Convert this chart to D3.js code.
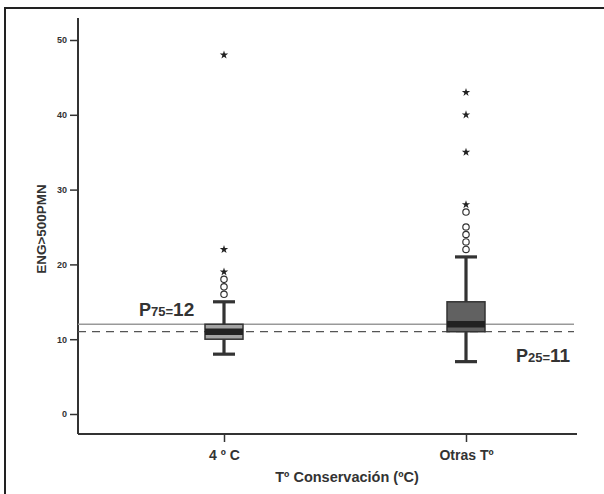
<!DOCTYPE html>
<html>
<head>
<meta charset="utf-8">
<script src="https://cdn.jsdelivr.net/npm/d3@7"></script>
<style>
    body { margin: 0; background: #fff; }
    svg { display: block; font-family: "Liberation Sans", Arial, sans-serif; }
</style>
</head>
<body>
<div id="chart"></div>
<script>
// data
var categories = ["4 º C", "Otras Tº"];
var q1 = [10, 11];
var medians = [11, 12];
var q3 = [12, 15];
var whiskLow = [8, 7];
var whiskHigh = [15, 21];
var circleOutliers = [[16, 17, 18], [22, 23, 24, 25, 27]];
var starOutliers = [[19, 22, 48], [28, 35, 40, 43]];
var yTicks = [0, 10, 20, 30, 40, 50];
var p75 = 12, p25 = 11;

var width = 604, height = 494;
var axisLeftX = 78, axisRightX = 577,
    axisTopY = 18, axisBottomY = 434;

var svg = d3.select("#chart").append("svg")
    .attr("width", width)
    .attr("height", height);

// outer frame (only top and left edges show)
svg.append("path")
    .attr("d", "M5,494 V8 H604")
    .attr("fill", "none")
    .attr("stroke", "#222")
    .attr("stroke-width", 2);

var y = d3.scaleLinear()
    .domain([0, 50])
    .range([414, 40]);

var x = d3.scalePoint()
    .domain(categories)
    .range([224, 466]);

var ink = "#333";

// y axis
var yAxis = d3.axisLeft(y).tickValues(yTicks).tickSize(8).tickPadding(3);
var gy = svg.append("g")
    .attr("transform", "translate(" + axisLeftX + ",0)")
    .call(yAxis);
gy.select(".domain").remove();
gy.selectAll(".tick line").attr("stroke", ink).attr("stroke-width", 1.5);
gy.selectAll(".tick text")
    .attr("fill", ink)
    .style("font-size", "9px")
    .style("font-weight", "bold");

svg.append("line")
    .attr("x1", axisLeftX).attr("x2", axisLeftX)
    .attr("y1", axisTopY).attr("y2", axisBottomY)
    .attr("stroke", ink).attr("stroke-width", 2);

// x axis
var xAxis = d3.axisBottom(x).tickSize(8).tickPadding(8);
var gx = svg.append("g")
    .attr("transform", "translate(0," + axisBottomY + ")")
    .call(xAxis);
gx.select(".domain").remove();
gx.selectAll(".tick line").attr("stroke", ink).attr("stroke-width", 1.5);
gx.selectAll(".tick text")
    .attr("fill", ink)
    .style("font-size", "14px")
    .style("font-weight", "bold");

svg.append("line")
    .attr("x1", axisLeftX).attr("x2", axisRightX)
    .attr("y1", axisBottomY).attr("y2", axisBottomY)
    .attr("stroke", ink).attr("stroke-width", 2);

// axis titles
svg.append("text")
    .attr("x", 347)
    .attr("y", 482)
    .attr("text-anchor", "middle")
    .attr("fill", ink)
    .style("font-size", "14.5px")
    .style("font-weight", "bold")
    .text("Tº Conservación (ºC)");

svg.append("text")
    .attr("transform", "translate(46,229) rotate(-90)")
    .attr("text-anchor", "middle")
    .attr("fill", ink)
    .style("font-size", "13.5px")
    .style("font-weight", "bold")
    .text("ENG>500PMN");

// reference lines P75 / P25
svg.append("line")
    .attr("x1", axisLeftX).attr("x2", 574)
    .attr("y1", y(p75)).attr("y2", y(p75))
    .attr("stroke", "#999").attr("stroke-width", 1.5);
svg.append("line")
    .attr("x1", axisLeftX).attr("x2", 574)
    .attr("y1", y(p25)).attr("y2", y(p25))
    .attr("stroke", "#555").attr("stroke-width", 1.3)
    .attr("stroke-dasharray", "8,6");

// boxes
var boxW = 38, capW = 22;
var fills = ["#a3a3a3", "#616161"];

var box = svg.selectAll(".box")
    .data(categories)
    .enter().append("g")
    .attr("class", "box");

box.append("line") // whisker stem
    .attr("x1", function(d) { return x(d); })
    .attr("x2", function(d) { return x(d); })
    .attr("y1", function(d, i) { return y(whiskLow[i]); })
    .attr("y2", function(d, i) { return y(whiskHigh[i]); })
    .attr("stroke", ink).attr("stroke-width", 3.2);

box.append("line") // top cap
    .attr("x1", function(d) { return x(d) - capW / 2; })
    .attr("x2", function(d) { return x(d) + capW / 2; })
    .attr("y1", function(d, i) { return y(whiskHigh[i]); })
    .attr("y2", function(d, i) { return y(whiskHigh[i]); })
    .attr("stroke", ink).attr("stroke-width", 3.2);

box.append("line") // bottom cap
    .attr("x1", function(d) { return x(d) - capW / 2; })
    .attr("x2", function(d) { return x(d) + capW / 2; })
    .attr("y1", function(d, i) { return y(whiskLow[i]); })
    .attr("y2", function(d, i) { return y(whiskLow[i]); })
    .attr("stroke", ink).attr("stroke-width", 3.2);

box.append("rect")
    .attr("x", function(d) { return x(d) - boxW / 2; })
    .attr("width", boxW)
    .attr("y", function(d, i) { return y(q3[i]); })
    .attr("height", function(d, i) { return y(q1[i]) - y(q3[i]); })
    .attr("fill", function(d, i) { return fills[i]; })
    .attr("stroke", ink).attr("stroke-width", 1.5);

box.append("line") // median
    .attr("x1", function(d) { return x(d) - boxW / 2; })
    .attr("x2", function(d) { return x(d) + boxW / 2; })
    .attr("y1", function(d, i) { return y(medians[i]); })
    .attr("y2", function(d, i) { return y(medians[i]); })
    .attr("stroke", "#222").attr("stroke-width", 6.5);

// outliers
var star = d3.symbol().type(d3.symbolStar).size(22);

categories.forEach(function(cat, i) {
    svg.selectAll(".circ" + i)
        .data(circleOutliers[i])
        .enter().append("circle")
        .attr("cx", x(cat))
        .attr("cy", function(v) { return y(v); })
        .attr("r", 3.2)
        .attr("fill", "#fff")
        .attr("stroke", ink)
        .attr("stroke-width", 1.2);

    svg.selectAll(".star" + i)
        .data(starOutliers[i])
        .enter().append("path")
        .attr("d", star)
        .attr("transform", function(v) { return "translate(" + x(cat) + "," + y(v) + ")"; })
        .attr("fill", "#222");
});

// percentile labels
function pLabel(xPos, yPos, sub, val) {
    var t = svg.append("text")
        .attr("x", xPos)
        .attr("y", yPos)
        .attr("fill", ink)
        .style("font-weight", "bold");
    t.append("tspan").style("font-size", "18px").text("P");
    t.append("tspan").style("font-size", "13px").text(sub + "=");
    t.append("tspan").style("font-size", "19px").text(val);
}
pLabel(139, 316, "75", p75);
pLabel(516, 362, "25", p25);
</script>
</body>
</html>
